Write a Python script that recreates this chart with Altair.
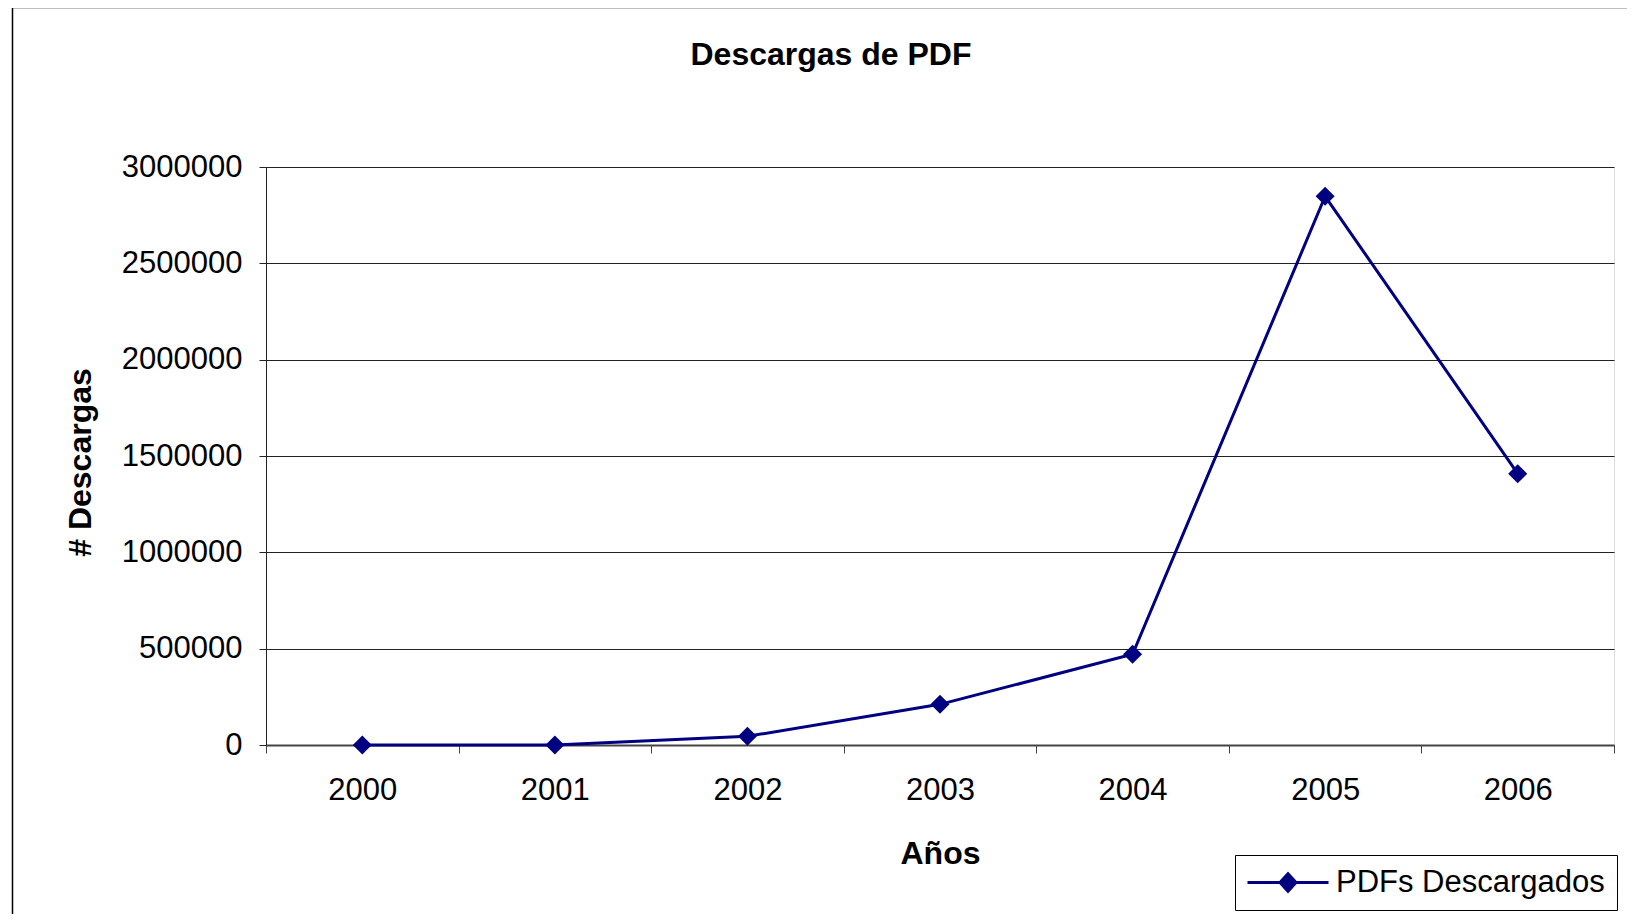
import altair as alt
import pandas as pd

years = ["2000", "2001", "2002", "2003", "2004", "2005", "2006"]
downloads = [0, 0, 45000, 211000, 471000, 2848000, 1408000]
series_name = "PDFs Descargados"
y_ticks = [0, 500000, 1000000, 1500000, 2000000, 2500000, 3000000]

df = pd.DataFrame({"year": years, "value": downloads, "series": [series_name] * len(years)})

NAVY = "#000080"
FONT = "Liberation Sans"

x_enc = alt.X(
    "year:O",
    bandPosition=0.5,
    scale=alt.Scale(type="band", paddingInner=0, paddingOuter=0),
    axis=alt.Axis(
        title="Años",
        titleFontSize=32, titleFont=FONT, titleFontWeight="bold", titleColor="#000",
        titleX=674, titleY=108, titleBaseline="middle", titleAlign="center",
        labelAngle=0, labelFontSize=31, labelFont=FONT, labelColor="#000",
        labelBaseline="middle", labelPadding=37,
        tickBand="extent", tickSize=8, tickColor="#444", tickWidth=1,
        domainColor="#444", domainWidth=2, grid=False,
    ),
)
y_enc = alt.Y(
    "value:Q",
    scale=alt.Scale(domain=[0, 3000000], nice=False),
    axis=alt.Axis(
        title="# Descargas",
        titleFontSize=32, titleFont=FONT, titleFontWeight="bold", titleColor="#000",
        titleX=-186, titleY=295, titleAngle=270, titleBaseline="middle", titleAlign="center",
        values=y_ticks, format="d",
        labelFontSize=31, labelFont=FONT, labelColor="#000", labelPadding=17,
        tickSize=7, tickColor="#222", domainColor="#222", domainWidth=1,
        grid=True, gridColor="#222", gridWidth=1,
    ),
)

line = alt.Chart(df).mark_line(color=NAVY, strokeWidth=3).encode(x=x_enc, y=y_enc)

legend_path = "M-1.5,-0.14 L6.6,-0.14 L6.6,0.14 L-1.5,0.14 Z M1.55,0 L2.55,-1.1 L3.55,0 L2.55,1.1 Z"

points = alt.Chart(df).mark_point(shape="diamond", size=361, filled=True, opacity=1).encode(
    x=x_enc,
    y=y_enc,
    color=alt.Color(
        "series:N",
        scale=alt.Scale(range=[NAVY]),
        legend=alt.Legend(
            title=None, orient="none", legendX=969, legendY=688,
            symbolType=legend_path, symbolSize=400, symbolFillColor=NAVY,
            symbolStrokeWidth=0, symbolOpacity=1,
            labelFontSize=31, labelFont=FONT, labelColor="#000", labelOffset=58,
            labelLimit=500,
            strokeColor="#000", padding=12, fillColor="white",
        ),
    ),
)

frame = alt.Chart(alt.Data(values=[{"a": 1}])).mark_rect(
    fill=None, stroke="#000", strokeWidth=1.5
).encode(
    x=alt.value(-253.5), x2=alt.value(1500), y=alt.value(-159.5), y2=alt.value(900)
)

chart = alt.layer(frame, line, points).properties(
    width=1348,
    height=578,
    title=alt.Title(
        "Descargas de PDF", fontSize=32, font=FONT, fontWeight="bold", color="#000",
        anchor="middle", dx=-109, offset=-80, baseline="middle",
    ),
    autosize=alt.AutoSizeParams(type="none"),
    padding={"left": 258, "top": 159, "right": 13, "bottom": 169},
    background="white",
).configure_view(stroke="#888", strokeWidth=2).configure(font=FONT)

chart.save("out.html", embed_options={"renderer": "svg", "actions": False})
